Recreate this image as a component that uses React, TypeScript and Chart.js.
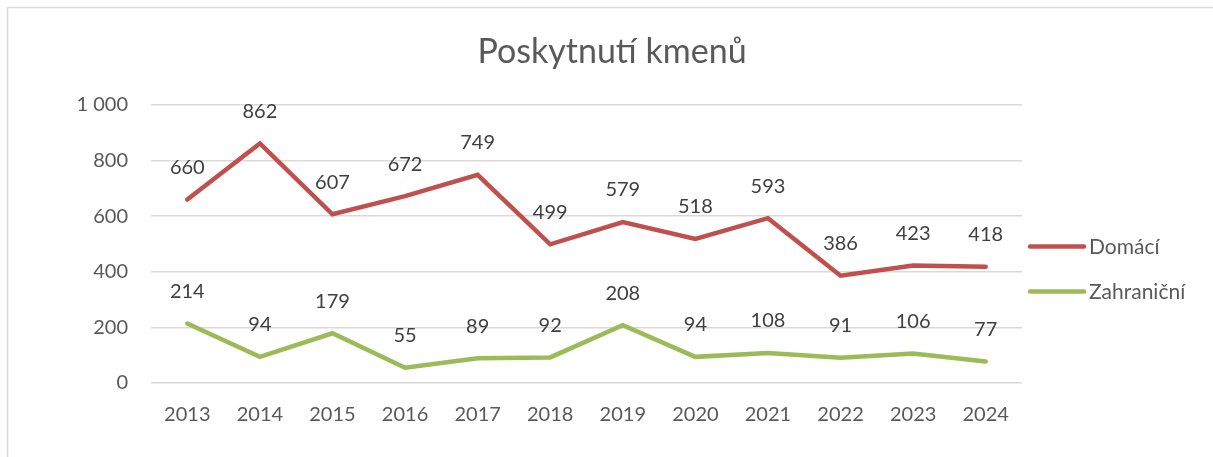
import React, { useEffect, useRef } from "react";
import { Chart, registerables } from "chart.js";

Chart.register(...registerables);

const TITLE = "Poskytnutí kmenů";
const YEARS = ["2013", "2014", "2015", "2016", "2017", "2018", "2019", "2020", "2021", "2022", "2023", "2024"];
const DOMACI = [660, 862, 607, 672, 749, 499, 579, 518, 593, 386, 423, 418];
const ZAHRANICNI = [214, 94, 179, 55, 89, 92, 208, 94, 108, 91, 106, 77];
const SERIES_NAMES = ["Domácí", "Zahraniční"];
const COLORS = ["#C0504D", "#9BBB59"];

const FONT = "Lato, 'Open Sans', sans-serif";
const fmt = (v: number) => {
  const s = String(Math.round(v));
  return s.replace(/\B(?=(\d{3})+(?!\d))/g, " ");
};

const decor = {
  id: "decor",
  beforeDraw(chart: any) {
    const ctx = chart.ctx;
    ctx.save();
    ctx.fillStyle = "#ffffff";
    ctx.fillRect(0, 0, chart.width, chart.height);
    ctx.strokeStyle = "#d9d9d9";
    ctx.lineWidth = 1.5;
    ctx.strokeRect(7.5, 7.5, chart.width + 20, chart.height + 20);
    ctx.fillStyle = "#595959";
    ctx.font = `34px ${FONT}`;
    ctx.textAlign = "center";
    ctx.textBaseline = "middle";
    ctx.fillText(TITLE, 612, 52);
    ctx.restore();
  },
  afterDatasetsDraw(chart: any) {
    const ctx = chart.ctx;
    ctx.save();
    ctx.font = `20px ${FONT}`;
    ctx.fillStyle = "#404040";
    ctx.textAlign = "center";
    ctx.textBaseline = "middle";
    chart.data.datasets.forEach((ds: any, i: number) => {
      const meta = chart.getDatasetMeta(i);
      meta.data.forEach((pt: any, j: number) => {
        ctx.fillText(fmt(ds.data[j]), pt.x, pt.y - 32);
      });
    });
    // legend
    const ca = chart.chartArea;
    const ys = [246.5, 291.5];
    chart.data.datasets.forEach((ds: any, i: number) => {
      const y = ys[i];
      ctx.strokeStyle = ds.borderColor;
      ctx.lineWidth = 4.5;
      ctx.lineCap = "round";
      ctx.beginPath();
      ctx.moveTo(ca.right + 8, y);
      ctx.lineTo(ca.right + 62, y);
      ctx.stroke();
      ctx.fillStyle = "#595959";
      ctx.font = `21px ${FONT}`;
      ctx.textAlign = "left";
      ctx.fillText(ds.label, ca.right + 67, y + 1);
    });
    ctx.restore();
  },
};

export default function App() {
  const ref = useRef<HTMLCanvasElement | null>(null);
  useEffect(() => {
    if (!ref.current) return;
    const chart = new Chart(ref.current, {
      type: "line",
      data: {
        labels: YEARS,
        datasets: [
          { label: SERIES_NAMES[0], data: DOMACI, borderColor: COLORS[0], backgroundColor: COLORS[0] },
          { label: SERIES_NAMES[1], data: ZAHRANICNI, borderColor: COLORS[1], backgroundColor: COLORS[1] },
        ],
      },
      options: {
        animation: false,
        responsive: false,
        devicePixelRatio: 1,
        layout: { padding: { left: 0, right: 191, top: 105, bottom: 0 } },
        elements: {
          line: { borderWidth: 4.5, tension: 0, borderCapStyle: "round", borderJoinStyle: "miter" },
          point: { radius: 0, hoverRadius: 0 },
        },
        plugins: {
          legend: { display: false },
          title: { display: false },
          tooltip: { enabled: false },
        },
        scales: {
          x: {
            offset: true,
            grid: { display: false, drawTicks: false },
            border: { display: false },
            ticks: { color: "#595959", font: { family: FONT, size: 20 }, padding: 20, maxRotation: 0 },
            afterFit: (s: any) => { s.height = 74; },
          },
          y: {
            min: 0,
            max: 1000,
            grid: { color: "#d9d9d9", lineWidth: 1.5, drawTicks: false },
            border: { display: false },
            ticks: {
              stepSize: 200,
              color: "#595959",
              font: { family: FONT, size: 20 },
              padding: 23,
              callback: (v: any) => fmt(Number(v)),
            },
            afterFit: (s: any) => { s.width = 151; },
          },
        },
      },
      plugins: [decor],
    });
    return () => chart.destroy();
  }, []);
  return (
    <div style={{ position: "absolute", left: 0, top: 0, width: 1213, height: 457 }}>
      <canvas ref={ref} width={1213} height={457} style={{ width: 1213, height: 457, display: "block" }} />
    </div>
  );
}
